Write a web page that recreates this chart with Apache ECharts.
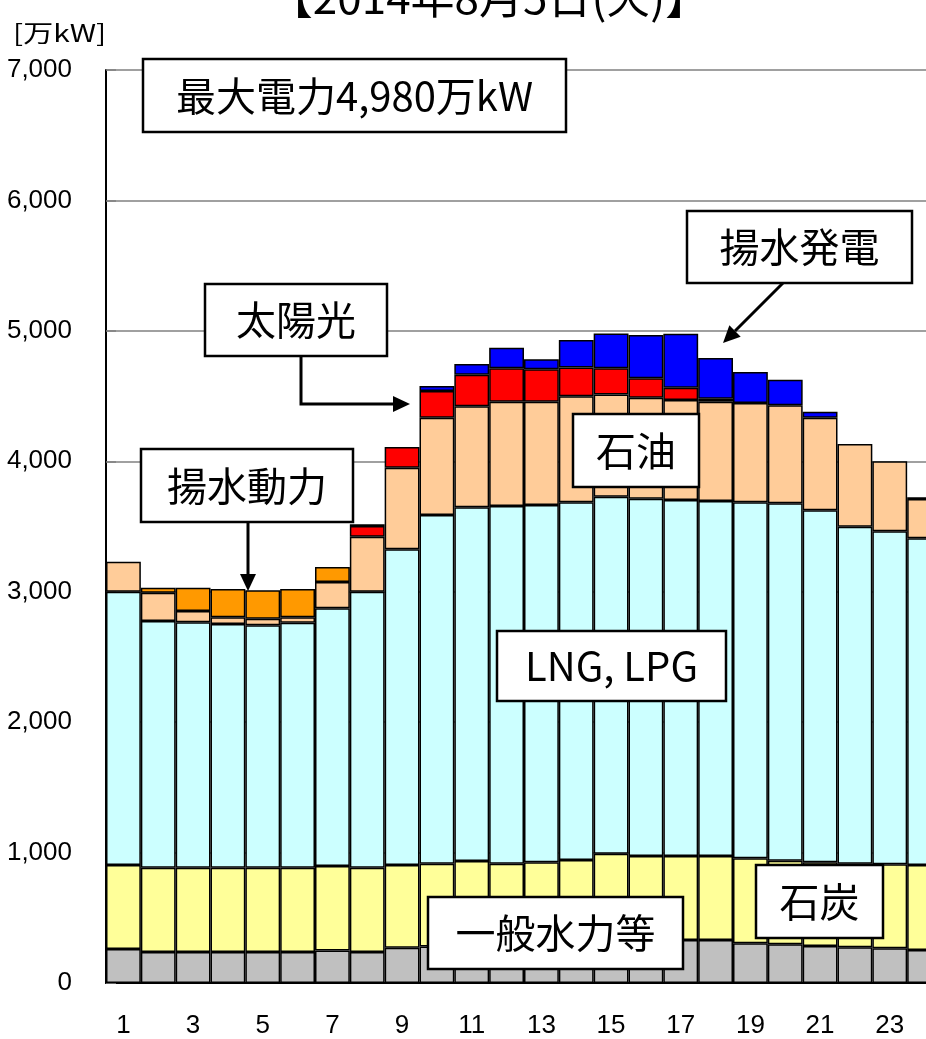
<!DOCTYPE html>
<html><head><meta charset="utf-8">
<script src="https://cdn.jsdelivr.net/npm/echarts@6/dist/echarts.min.js"></script>
<style>html,body{margin:0;padding:0;background:#fff}#c{width:926px;height:1039px}</style>
</head><body><div id="c"></div>
<script>
// ---- data (万kW), hours 1..24 ----
const hours = ['1','2','3','4','5','6','7','8','9','10','11','12','13','14','15','16','17','18','19','20','21','22','23','24'];
const hydro       = [261,238,238,238,238,238,250,238,271,279,290,300,305,315,325,330,330,330,304,297,284,274,266,253];
const coal        = [644,646,646,646,646,646,647,646,634,636,645,615,620,628,666,644,644,644,652,641,641,641,644,652];
const lng         = [2095,1891,1881,1868,1858,1878,1976,2116,2420,2673,2712,2742,2740,2742,2737,2739,2729,2721,2729,2740,2699,2583,2553,2505];
const oil         = [230,217,87,52,51,42,201,422,626,746,775,800,792,813,785,775,767,762,762,751,710,635,537,301];
const solar       = [0,0,0,0,0,0,0,82,159,205,242,256,248,222,200,148,94,23,0,0,0,0,0,0];
const pumpingLoad = [0,39,179,217,218,217,115,13,0,0,0,0,0,0,0,0,0,0,0,0,0,0,0,13];
const pumpedGen   = [0,0,0,0,0,0,0,0,0,38,82,158,77,210,267,332,414,312,237,197,46,0,0,0];
const seriesNames = ['一般水力等','石炭','LNG, LPG','石油','太陽光','揚水動力','揚水発電'];
const seriesData  = [hydro, coal, lng, oil, solar, pumpingLoad, pumpedGen];
const seriesColors = ['#c0c0c0','#ffff99','#ccffff','#ffcc99','#ff0000','#ff9900','#0000ff'];
const titleText = '【2014年8月5日(火)】';
const unitText = '[万kW]';

const CJK = '"Noto Sans CJK JP", "Noto Sans CJK SC", sans-serif';
const NUM = '"Liberation Sans Narrow", "Arial Narrow", "Liberation Sans", Arial, sans-serif';

const boxes = [
  {text:'最大電力4,980万kW', x:143, y:59, w:423, h:73},
  {text:'揚水発電', x:687, y:211, w:225, h:72},
  {text:'太陽光', x:205, y:284, w:182, h:72},
  {text:'石油', x:573, y:414, w:126, h:73},
  {text:'揚水動力', x:141, y:449, w:212, h:73},
  {text:'LNG, LPG', x:497, y:631, w:229, h:70},
  {text:'石炭', x:756, y:865, w:127, h:73},
  {text:'一般水力等', x:428, y:897, w:255, h:72}
];
const arrows = [
  [[783,283],[723,343]],
  [[301,356],[301,404],[410,404]],
  [[248,522],[248,591]]
];

const graphics = [];
graphics.push({type:'text', x:489, y:-3, z:100, style:{text:titleText, font:'44px '+CJK, fill:'#000', textAlign:'center', textVerticalAlign:'middle'}});
graphics.push({type:'text', x:13, y:33, scaleX:1.25, z:100, style:{text:unitText, font:'24px '+CJK, fill:'#000', textAlign:'left', textVerticalAlign:'middle'}});
boxes.forEach(b=>{
  graphics.push({type:'rect', z:100, shape:{x:b.x,y:b.y,width:b.w,height:b.h}, style:{fill:'#fff', stroke:'#000', lineWidth:2.5}});
  graphics.push({type:'text', z:101, x:b.x+b.w/2, y:b.y+b.h/2, style:{text:b.text, font:'40px '+CJK, fill:'#000', textAlign:'center', textVerticalAlign:'middle'}});
});
arrows.forEach(pts=>{
  const n = pts.length;
  const tip = pts[n-1], prev = pts[n-2];
  let dx = tip[0]-prev[0], dy = tip[1]-prev[1];
  const L = Math.hypot(dx,dy); dx/=L; dy/=L;
  const hl = 17, hw = 8;
  const base = [tip[0]-dx*hl, tip[1]-dy*hl];
  const shaft = pts.slice(0,n-1).concat([base]);
  graphics.push({type:'polyline', z:100, shape:{points:shaft}, style:{stroke:'#000', lineWidth:3, fill:null}});
  graphics.push({type:'polygon', z:100, shape:{points:[tip,[base[0]-dy*hw, base[1]+dx*hw],[base[0]+dy*hw, base[1]-dx*hw]]}, style:{fill:'#000'}});
});

const chart = echarts.init(document.getElementById('c'), null, {renderer:'canvas'});
chart.setOption({
  animation:false,
  backgroundColor:'#fff',
  grid:{left:106, top:70, width:836, height:913, containLabel:false, outerBoundsMode:'none'},
  xAxis:{type:'category', data:hours,
    axisLine:{show:true, lineStyle:{color:'#000', width:2}},
    axisTick:{show:false},
    axisLabel:{interval:1, margin:30, fontSize:26, color:'#000', fontFamily:NUM},
    splitLine:{show:false}},
  yAxis:{type:'value', min:0, max:7000, interval:1000,
    axisLine:{show:true, lineStyle:{color:'#000', width:2}},
    axisTick:{show:true, inside:true, length:10, lineStyle:{color:'#808080', width:1.5}},
    axisLabel:{margin:34, fontSize:26, color:'#000', fontFamily:NUM, formatter:v=>v.toLocaleString('en-US')},
    splitLine:{show:true, lineStyle:{color:'#808080', width:1.5}}},
  series: seriesNames.map((nm,i)=>({
    name:nm, type:'bar', stack:'total', barCategoryGap:'0%',
    data: seriesData[i].map(v=> v===0 ? '-' : v),
    itemStyle:{color:seriesColors[i], borderColor:'#000', borderWidth:1.5},
    emphasis:{disabled:true}
  })),
  graphic: graphics
});
</script></body></html>
